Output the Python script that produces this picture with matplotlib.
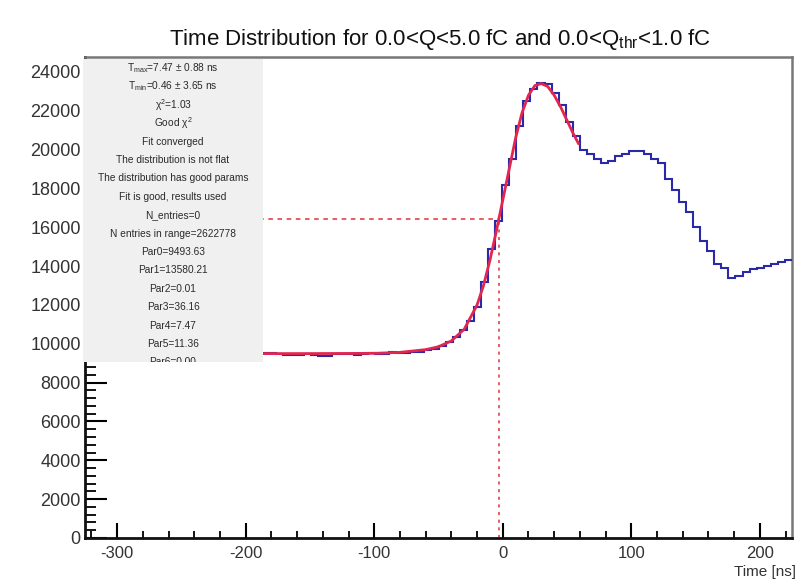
import numpy as np
import matplotlib
matplotlib.use("Agg")
import matplotlib.pyplot as plt
from matplotlib.patches import Rectangle
from matplotlib.ticker import MultipleLocator

plt.rcParams['font.family'] = ['Liberation Sans', 'DejaVu Sans']
plt.rcParams['axes.unicode_minus'] = False
plt.rcParams['mathtext.default'] = 'regular'

# ---- data ----
x_min, x_max, n_bins = -325.0, 225.0, 100
counts = [
    9480, 9520, 9460, 9500, 9540, 9470, 9510, 9490, 9450, 9530,
    9500, 9470, 9520, 9480, 9510, 9540, 9460, 9500, 9490, 9520,
    9470, 9510, 9530, 9480, 9500,
    9550, 9520, 9480, 9430, 9400, 9420, 9460, 9400, 9350, 9380,
    9450, 9500, 9470, 9430, 9480, 9520, 9470, 9500, 9560, 9520,
    9520, 9600, 9580, 9680, 9750, 9900, 10100, 10350, 10700, 11200,
    11900, 13200, 14900, 16300, 18200, 19500, 21200, 22500, 23100, 23450,
    23400, 22900, 22300, 21400, 20700, 20000, 19750, 19500, 19300, 19400,
    19650, 19800, 19950, 19950, 19750, 19500, 19300, 18500, 17900, 17300,
    16800, 16000, 15300, 14800, 14100, 13900, 13400, 13500, 13700, 13850,
    13900, 14000, 14100, 14200, 14300,
]
fit_t = [-325, -250, -200, -150, -100, -80, -60, -50, -40, -30, -20, -15, -10,
         -5, -3, 0, 5, 10, 15, 20, 25, 30, 35, 40, 45, 50, 55, 59]
fit_v = [9494, 9494, 9495, 9497, 9510, 9560, 9700, 9850, 10150, 10750, 12000,
         13000, 14300, 15800, 16450, 17400, 19000, 20600, 21900, 22800, 23300,
         23400, 23250, 22800, 22200, 21500, 20800, 20300]
half_t, half_v = -3.0, 16450
stats_lines = [
    r"T$_{max}$=7.47 $\pm$ 0.88 ns",
    r"T$_{min}$=0.46 $\pm$ 3.65 ns",
    r"$\chi^2$=1.03",
    r"Good $\chi^2$",
    "Fit converged",
    "The distribution is not flat",
    "The distribution has good params",
    "Fit is good, results used",
    "N_entries=0",
    "N entries in range=2622778",
    "Par0=9493.63",
    "Par1=13580.21",
    "Par2=0.01",
    "Par3=36.16",
    "Par4=7.47",
    "Par5=11.36",
    "Par6=0.00",
]
title = r"Time Distribution for 0.0<Q<5.0 fC and 0.0<Q$_{thr}$<1.0 fC"

# ---- figure ----
W, H = 800, 582
PT = 0.72  # points per pixel at 100 dpi
fig = plt.figure(figsize=(W / 100, H / 100), dpi=100)
ax = fig.add_axes([85 / W, 1 - 538 / H, (792 - 85) / W, (538 - 57) / H])

edges = np.linspace(x_min, x_max, n_bins + 1)
ax.stairs(counts, edges, baseline=None, color='#2a2aa8', lw=1.5, zorder=3)
ax.plot(fit_t, fit_v, color='#e3264f', lw=2.0, zorder=4, solid_capstyle='round')
ax.plot([x_min, half_t], [half_v, half_v], color='#e0303a', lw=1.1,
        ls=(0, (3, 3)), zorder=2)
ax.plot([half_t, half_t], [0, half_v], color='#e0303a', lw=1.1,
        ls=(0, (2, 3)), zorder=2)

ax.set_xlim(x_min, x_max)
ax.set_ylim(0, 24770)
ax.xaxis.set_major_locator(MultipleLocator(100))
ax.xaxis.set_minor_locator(MultipleLocator(20))
ax.yaxis.set_major_locator(MultipleLocator(2000))
ax.yaxis.set_minor_locator(MultipleLocator(400))
ax.tick_params(axis='x', which='major', direction='in', length=15 * PT,
               width=1.5, labelsize=12, pad=6, labelcolor='#333333')
ax.tick_params(axis='x', which='minor', direction='in', length=7 * PT,
               width=1.3)
ax.tick_params(axis='y', which='major', direction='in', length=22 * PT,
               width=1.5, labelsize=13, pad=3, labelcolor='#333333')
ax.tick_params(axis='y', which='minor', direction='in', length=11 * PT,
               width=1.3)
for s in ['left', 'bottom']:
    ax.spines[s].set_linewidth(2.0)
    ax.spines[s].set_color('#111111')
for s in ['top', 'right']:
    ax.spines[s].set_linewidth(1.8)
    ax.spines[s].set_color('#777777')

# stats box (covers the upper left of the frame)
bx0, bx1, by0, by1 = 83, 263, 59, 362
box = Rectangle((bx0 / W, 1 - by1 / H), (bx1 - bx0) / W, (by1 - by0) / H,
                transform=fig.transFigure, facecolor='#f0f0f0',
                edgecolor='none', zorder=10)
fig.patches.append(box)
y0, dy = 68, 18.4
for i, line in enumerate(stats_lines):
    yy = y0 + i * dy
    if yy > by1 + 4:
        break
    t = fig.text((bx0 + bx1) / 2 / W, 1 - yy / H, line, ha='center',
                 va='center', fontsize=7.3, color='#2a2a2a', zorder=11)
    t.set_clip_path(box)

fig.text(440 / W, 1 - 40 / H, title, ha='center', va='center', fontsize=16,
         color='#111111')
fig.text(796 / W, 1 - 572 / H, "Time [ns]", ha='right', va='center',
         fontsize=11, color='#333333')

fig.savefig("out.png", dpi=100)
